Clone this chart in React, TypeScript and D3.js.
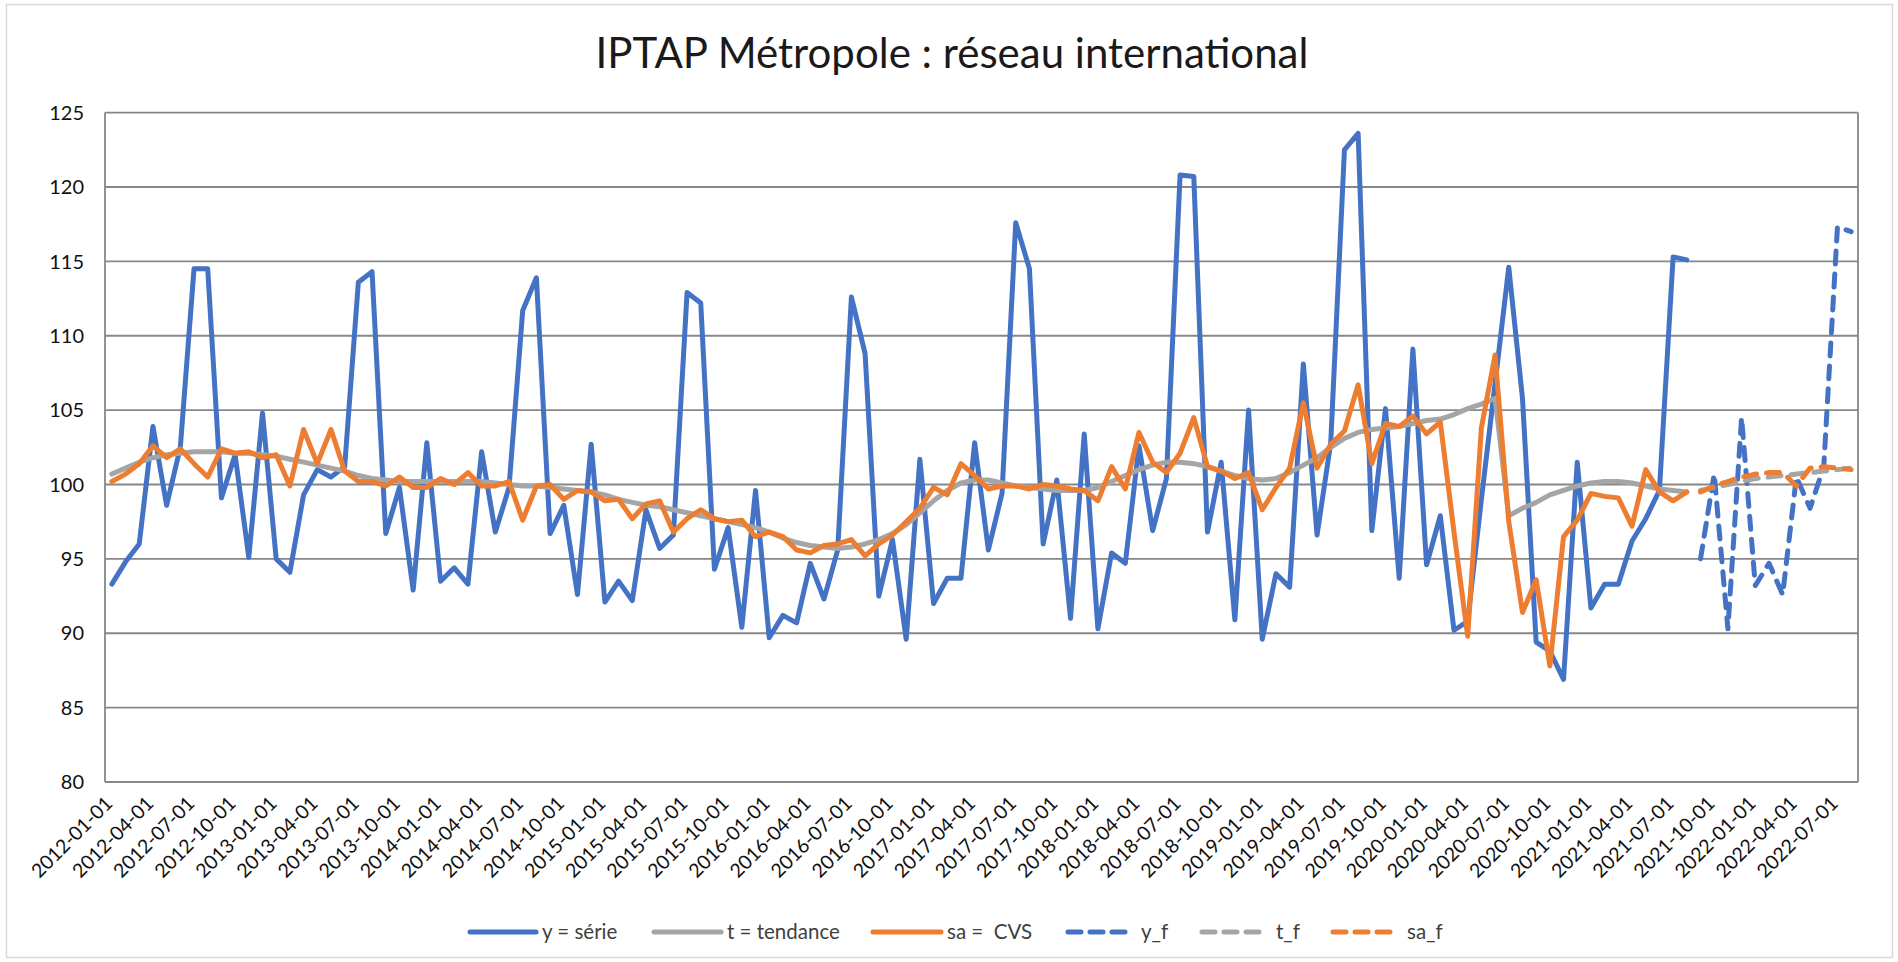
import React from "react";
import * as d3 from "d3";

const W = 1898;
const H = 962;

// Categories: monthly, 2012-01 .. 2022-08
const MONTHS: Date[] = d3.timeMonth.range(new Date(2012, 0, 1), new Date(2022, 8, 1));
const Y_TICKS = [80, 85, 90, 95, 100, 105, 110, 115, 120, 125];
const FORECAST_START = 116; // index of 2021-09

// y = série (2012-01 .. 2021-08)
const SERIE = [
  93.3, 94.8, 96.0, 103.9, 98.6, 102.5, 114.5, 114.5, 99.1, 102.0, 95.1, 104.8,
  95.0, 94.1, 99.3, 101.0, 100.5, 101.2, 113.6, 114.3, 96.7, 99.8, 92.9, 102.8,
  93.5, 94.4, 93.3, 102.2, 96.8, 99.8, 111.7, 113.9, 96.7, 98.6, 92.6, 102.7,
  92.1, 93.5, 92.2, 98.3, 95.7, 96.6, 112.9, 112.2, 94.3, 97.1, 90.4, 99.6,
  89.7, 91.2, 90.7, 94.7, 92.3, 95.6, 112.6, 108.8, 92.5, 96.3, 89.6, 101.7,
  92.0, 93.7, 93.7, 102.8, 95.6, 99.4, 117.6, 114.5, 96.0, 100.3, 91.0, 103.4,
  90.3, 95.4, 94.7, 102.6, 96.9, 100.4, 120.8, 120.7, 96.8, 101.5, 90.9, 105.0,
  89.6, 94.0, 93.1, 108.1, 96.6, 102.8, 122.5, 123.6, 96.9, 105.1, 93.7, 109.1,
  94.6, 97.9, 90.2, 90.8, 99.0, 106.8, 114.6, 105.8, 89.4, 88.8, 86.9, 101.5,
  91.7, 93.3, 93.3, 96.2, 97.7, 99.6, 115.3, 115.1,
];

// t = tendance
const TENDANCE = [
  100.7, 101.1, 101.5, 101.8, 102.0, 102.1, 102.2, 102.2, 102.2, 102.1, 102.1, 102.0,
  101.9, 101.7, 101.5, 101.3, 101.1, 100.9, 100.6, 100.4, 100.3, 100.2, 100.2, 100.2,
  100.2, 100.2, 100.2, 100.2, 100.1, 100.0, 99.9, 99.9, 99.8, 99.7, 99.6, 99.5,
  99.3, 99.0, 98.8, 98.6, 98.5, 98.3, 98.1, 97.9, 97.7, 97.5, 97.3, 97.1,
  96.8, 96.4, 96.1, 95.9, 95.8, 95.7, 95.8, 96.0, 96.3, 96.7, 97.3, 98.1,
  98.9, 99.6, 100.1, 100.3, 100.3, 100.1, 99.9, 99.8, 99.7, 99.6, 99.6, 99.6,
  99.8, 100.2, 100.6, 101.0, 101.3, 101.5, 101.5, 101.4, 101.2, 100.9, 100.6, 100.4,
  100.3, 100.4, 100.8, 101.3, 101.8, 102.5, 103.1, 103.5, 103.7, 103.8, 103.9, 104.1,
  104.3, 104.4, 104.7, 105.1, 105.4, 105.8, 97.9, 98.4, 98.8, 99.3, 99.6, 99.9,
  100.1, 100.2, 100.2, 100.1, 99.9, 99.7, 99.6, 99.5,
];

// sa = CVS
const CVS = [
  100.2, 100.7, 101.4, 102.6, 101.8, 102.4, 101.4, 100.5, 102.4, 102.1, 102.2, 101.8,
  102.0, 99.9, 103.7, 101.4, 103.7, 100.9, 100.2, 100.2, 99.9, 100.5, 99.8, 99.8,
  100.4, 100.0, 100.8, 99.9, 99.9, 100.2, 97.6, 99.9, 100.0, 99.0, 99.6, 99.5,
  98.9, 99.0, 97.7, 98.7, 98.9, 96.8, 97.7, 98.3, 97.7, 97.5, 97.6, 96.5,
  96.8, 96.5, 95.6, 95.4, 95.9, 96.0, 96.3, 95.2, 96.0, 96.6, 97.5, 98.4,
  99.8, 99.3, 101.4, 100.6, 99.7, 99.9, 99.9, 99.7, 100.0, 99.9, 99.7, 99.6,
  98.9, 101.2, 99.7, 103.5, 101.5, 100.8, 102.1, 104.5, 101.2, 100.9, 100.4, 100.8,
  98.3, 99.8, 101.1, 105.5, 101.1, 102.7, 103.6, 106.7, 101.4, 104.1, 103.9, 104.6,
  103.4, 104.2, 96.8, 89.8, 103.8, 108.7, 97.5, 91.4, 93.6, 87.8, 96.5, 97.6,
  99.4, 99.2, 99.1, 97.2, 101.0, 99.5, 98.9, 99.5,
];

// Forecasts (2021-09 .. 2022-08)
const Y_F = [95.0, 100.7, 90.3, 104.5, 93.2, 94.7, 92.6, 100.5, 98.4, 101.2, 117.3, 117.0];
const T_F = [99.6, 99.8, 100.0, 100.2, 100.4, 100.5, 100.6, 100.7, 100.8, 100.9, 101.0, 101.1];
const SA_F = [99.5, 99.9, 100.2, 100.5, 100.7, 100.8, 100.8, 99.9, 101.1, 101.2, 101.1, 101.0];

const BLUE = "#4472C4";
const GREY = "#A5A5A5";
const ORANGE = "#ED7D31";

const SERIES = [
  { name: "y = série", values: SERIE, offset: 0, color: BLUE, dashed: false },
  { name: "t = tendance", values: TENDANCE, offset: 0, color: GREY, dashed: false },
  { name: "sa =  CVS", values: CVS, offset: 0, color: ORANGE, dashed: false },
  { name: "y_f", values: Y_F, offset: FORECAST_START, color: BLUE, dashed: true },
  { name: "t_f", values: T_F, offset: FORECAST_START, color: GREY, dashed: true },
  { name: "sa_f", values: SA_F, offset: FORECAST_START, color: ORANGE, dashed: true },
];

// legend layout (line start, line end, text x)
const LEGEND_POS = [
  [470, 536, 542],
  [654, 721, 727],
  [873, 941, 947],
  [1068, 1133, 1141],
  [1202, 1266, 1276],
  [1333, 1397, 1407],
];

const PLOT = { left: 105, right: 1858, top: 112.6, bottom: 782 };
const FONT = "Lato, 'Open Sans', sans-serif";
const LW = 5;
const DASH = "13 10";

export default function App() {
  const fmt = d3.timeFormat("%Y-%m-%d");
  const x = d3
    .scalePoint<number>()
    .domain(d3.range(MONTHS.length))
    .range([PLOT.left, PLOT.right])
    .padding(0.5);
  const y = d3.scaleLinear().domain([80, 125]).range([PLOT.bottom, PLOT.top]);

  const paths = SERIES.map((s) => {
    const line = d3
      .line<number>()
      .x((_, i) => x(i + s.offset) as number)
      .y((v) => y(v));
    return { ...s, d: line(s.values) || "" };
  });

  const labelIdx = d3.range(0, MONTHS.length, 3);

  return (
    <svg
      width={W}
      height={H}
      style={{ position: "absolute", left: 0, top: 0, background: "#fff" }}
      fontFamily={FONT}
    >
      <rect x={0} y={0} width={W} height={H} fill="#fff" />
      <rect x={6.5} y={4.5} width={1886} height={953} fill="none" stroke="#D9D9D9" strokeWidth={1.5} />
      <text x={952} y={68} textAnchor="middle" fontSize={42} fill="#1a1a1a">
        IPTAP Métropole : réseau international
      </text>

      {/* gridlines */}
      {Y_TICKS.map((t) => (
        <line
          key={t}
          x1={PLOT.left}
          x2={PLOT.right}
          y1={y(t)}
          y2={y(t)}
          stroke="#878787"
          strokeWidth={1.8}
        />
      ))}
      <line x1={PLOT.left} x2={PLOT.left} y1={PLOT.top} y2={PLOT.bottom} stroke="#878787" strokeWidth={1.8} />
      <line x1={PLOT.right} x2={PLOT.right} y1={PLOT.top} y2={PLOT.bottom} stroke="#878787" strokeWidth={1.8} />

      {/* y tick labels */}
      {Y_TICKS.map((t) => (
        <text key={t} x={84} y={y(t)} dy="0.36em" textAnchor="end" fontSize={20} fill="#111">
          {t}
        </text>
      ))}

      {/* x tick labels */}
      {labelIdx.map((i) => {
        const cx = (x(i) as number) - 3;
        const cy = 800;
        return (
          <text
            key={i}
            x={cx}
            y={cy}
            dy="0.35em"
            textAnchor="end"
            fontSize={19.5}
            fill="#111"
            transform={`rotate(-45 ${cx} ${cy})`}
          >
            {fmt(MONTHS[i])}
          </text>
        );
      })}

      {/* series */}
      {paths.map((p) => (
        <path
          key={p.name}
          d={p.d}
          fill="none"
          stroke={p.color}
          strokeWidth={LW}
          strokeLinejoin="round"
          strokeLinecap="round"
          strokeDasharray={p.dashed ? DASH : undefined}
        />
      ))}

      {/* legend */}
      {SERIES.map((s, k) => {
        const [x1, x2, tx] = LEGEND_POS[k];
        return (
          <g key={s.name}>
            <line
              x1={x1}
              x2={x2}
              y1={932}
              y2={932}
              stroke={s.color}
              strokeWidth={LW}
              strokeLinecap="round"
              strokeDasharray={s.dashed ? "13 9" : undefined}
            />
            <text x={tx} y={932} dy="0.35em" fontSize={20.5} fill="#404040" style={{ whiteSpace: "pre" }}>
              {s.name}
            </text>
          </g>
        );
      })}
    </svg>
  );
}
